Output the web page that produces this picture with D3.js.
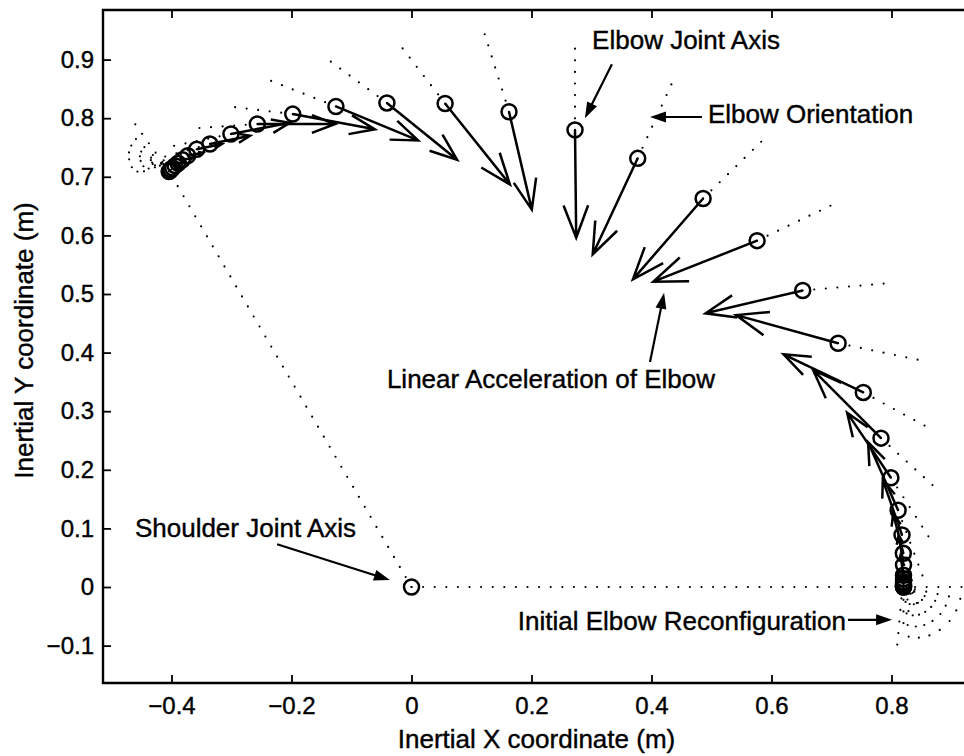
<!DOCTYPE html>
<html>
<head>
<meta charset="utf-8">
<script src="https://cdn.jsdelivr.net/npm/d3@7"></script>
<style>
body { margin: 0; background: #fff; }
svg { font-family: "Liberation Sans", Arial, sans-serif; }
svg text { stroke: #000; stroke-width: 0.4px; }
</style>
</head>
<body>
<svg id="chart" width="964" height="756"></svg>
<script>
// elbow positions (m), in time order: start at lower right, end at upper left
var elbowX = [0.820, 0.820, 0.820, 0.820, 0.820, 0.820, 0.820, 0.820, 0.820,
    0.820, 0.8197, 0.8175, 0.811, 0.799, 0.7825, 0.753, 0.711, 0.652, 0.576, 0.486,
    0.377, 0.2725, 0.1625, 0.056, -0.041, -0.126, -0.198, -0.257, -0.301, -0.336, -0.358,
    -0.373, -0.382, -0.389, -0.394, -0.398, -0.401, -0.403, -0.404];
var elbowY = [0.000, 0.000, 0.001, 0.002, 0.004, 0.006, 0.009, 0.014, 0.020,
    0.0375, 0.0575, 0.0887, 0.131, 0.1865, 0.254, 0.332, 0.416, 0.506, 0.591, 0.663,
    0.7315, 0.780, 0.811, 0.825, 0.826, 0.820, 0.807, 0.790, 0.773, 0.756, 0.747,
    0.736, 0.729, 0.723, 0.719, 0.715, 0.712, 0.710, 0.709];

// linear acceleration of elbow, drawn as vectors (plot units)
var accX = [0, 0, 0, 0, 0, 0, 0, -0.002, -0.005,
    -0.008, -0.017, -0.032, -0.050, -0.073, -0.113, -0.133, -0.170, -0.162, -0.173, -0.117,
    -0.075, 0.002, 0.038, 0.108, 0.117, 0.137, 0.137, 0.130, 0.098, 0.067, 0.042,
    0.025, 0.017, 0.010, 0.005, 0, 0, 0, 0];
var accY = [0, 0, 0, 0, 0, 0, 0.008, 0.017, 0.034,
    0.051, 0.068, 0.094, 0.116, 0.111, 0.116, 0.065, 0.048, -0.039, -0.070, -0.138,
    -0.164, -0.184, -0.167, -0.138, -0.097, -0.058, -0.026, 0.000, 0.019, 0.014, 0.009,
    0.005, 0.003, 0.002, 0, 0, 0, 0, 0];

// elbow orientation (projected joint axis): angle in degrees and length in m
var orientAngle = [0, -12, -25, -38, -52, -64, -75, -85, -95,
    -90, -85, -78, -70, -58, -43, -29, -12, 5, 26, 45,
    66, 90, 107, 127, 143, 158, 173, 184, 192, 196, 199,
    200, 195, 185, 172, 160, 148, 136, 125];
var orientLen = [0.10, 0.10, 0.10, 0.10, 0.10, 0.10, 0.10, 0.11, 0.12,
    0.11, 0.115, 0.12, 0.12, 0.125, 0.13, 0.135, 0.14, 0.14, 0.14, 0.14,
    0.14, 0.14, 0.14, 0.135, 0.13, 0.12, 0.11, 0.105, 0.10, 0.095, 0.09,
    0.085, 0.085, 0.085, 0.09, 0.09, 0.095, 0.095, 0.10];

var shoulderX = 0, shoulderY = 0;

var xTicks = [-0.4, -0.2, 0, 0.2, 0.4, 0.6, 0.8];
var yTicks = [-0.1, 0, 0.1, 0.2, 0.3, 0.4, 0.5, 0.6, 0.7, 0.8, 0.9];

var xTitle = "Inertial X coordinate (m)";
var yTitle = "Inertial Y coordinate (m)";
var noteText = ["Elbow Joint Axis", "Elbow Orientation", "Linear Acceleration of Elbow",
    "Shoulder Joint Axis", "Initial Elbow Reconfiguration"];

// ---- layout ----
var svg = d3.select("#chart");
var pL = 103, pT = 10, pB = 683, pR = 968;
var x = d3.scaleLinear().domain([-0.5142, 0.9275]).range([pL, pR]);
var y = d3.scaleLinear().domain([-0.1638, 0.9846]).range([pB, pT]);

svg.append("defs").append("clipPath").attr("id", "plotclip")
    .append("rect").attr("x", pL).attr("y", pT)
    .attr("width", pR - pL).attr("height", pB - pT);

var fmt = function(d) { return d === 0 ? "0" : d3.format(".1f")(d); };

// axes, ticks pointing inward like MATLAB
var gx = svg.append("g").attr("transform", "translate(0," + pB + ")")
    .call(d3.axisBottom(x).tickValues(xTicks).tickSizeInner(-8).tickSizeOuter(0)
        .tickPadding(14).tickFormat(fmt));
var gxTop = svg.append("g").attr("transform", "translate(0," + pT + ")")
    .call(d3.axisTop(x).tickValues(xTicks).tickSizeInner(-8).tickSizeOuter(0)
        .tickFormat(""));
var gy = svg.append("g").attr("transform", "translate(" + pL + ",0)")
    .call(d3.axisLeft(y).tickValues(yTicks).tickSizeInner(-8).tickSizeOuter(0)
        .tickPadding(9).tickFormat(fmt));

[gx, gxTop, gy].forEach(function(g) {
    g.select(".domain").remove();
    g.selectAll(".tick line").attr("stroke", "#000").attr("stroke-width", 1.8);
    g.selectAll(".tick text").attr("fill", "#000")
        .style("font-size", "24px").style("font-family", "'Liberation Sans', Arial, sans-serif");
});

// frame
svg.append("path")
    .attr("d", "M" + pR + "," + pT + "H" + pL + "V" + pB + "H" + pR)
    .attr("fill", "none").attr("stroke", "#000").attr("stroke-width", 2.4);

svg.append("text").attr("x", (pL + 970) / 2).attr("y", 748)
    .attr("text-anchor", "middle").style("font-size", "26px").text(xTitle);
svg.append("text")
    .attr("transform", "translate(33," + ((pT + pB) / 2 - 6) + ") rotate(-90)")
    .attr("text-anchor", "middle").style("font-size", "26px").text(yTitle);

// ---- marks ----
var plot = svg.append("g").attr("clip-path", "url(#plotclip)");
var idx = d3.range(elbowX.length);
var last = elbowX.length - 1;

var dotted = function(sel) {
    return sel.attr("fill", "none").attr("stroke", "#000").attr("stroke-width", 2.2)
        .attr("stroke-linecap", "round").attr("stroke-dasharray", "0,11.6");
};

// upper arm at start and end positions
var line = d3.line().x(function(d) { return x(d[0]); }).y(function(d) { return y(d[1]); });
plot.append("path").attr("d", line([[shoulderX, shoulderY], [elbowX[0], elbowY[0]]])).call(dotted);
plot.append("path").attr("d", line([[shoulderX, shoulderY], [elbowX[last], elbowY[last]]])).call(dotted);

// elbow orientation lines
plot.selectAll(".orient").data(idx).join("path").attr("class", "orient")
    .attr("d", function(i) {
        var a = orientAngle[i] * Math.PI / 180;
        return line([[elbowX[i], elbowY[i]],
            [elbowX[i] + orientLen[i] * Math.cos(a), elbowY[i] + orientLen[i] * Math.sin(a)]]);
    })
    .call(dotted);

// elbow circles
plot.selectAll(".elbow").data(idx).join("circle").attr("class", "elbow")
    .attr("cx", function(i) { return x(elbowX[i]); })
    .attr("cy", function(i) { return y(elbowY[i]); })
    .attr("r", 7.5).attr("fill", "none").attr("stroke", "#000").attr("stroke-width", 2.5);

plot.append("circle").attr("cx", x(shoulderX)).attr("cy", y(shoulderY))
    .attr("r", 7.5).attr("fill", "none").attr("stroke", "#000").attr("stroke-width", 2.5);

// acceleration vectors with quiver style heads
function quiverPath(i) {
    var x0 = x(elbowX[i]), y0 = y(elbowY[i]);
    var x1 = x(elbowX[i] + accX[i]), y1 = y(elbowY[i] + accY[i]);
    var ux = x1 - x0, uy = y1 - y0;
    if (Math.abs(ux) + Math.abs(uy) < 0.5) return "";
    var a = 0.3, b = 0.38;
    var w1x = x1 - a * (ux - b * uy), w1y = y1 - a * (uy + b * ux);
    var w2x = x1 - a * (ux + b * uy), w2y = y1 - a * (uy - b * ux);
    return "M" + x0 + "," + y0 + "L" + x1 + "," + y1 +
        "M" + w1x + "," + w1y + "L" + x1 + "," + y1 + "L" + w2x + "," + w2y;
}
plot.selectAll(".acc").data(idx).join("path").attr("class", "acc")
    .attr("d", quiverPath)
    .attr("fill", "none").attr("stroke", "#000").attr("stroke-width", 2.5)
    .attr("stroke-linejoin", "miter");

// ---- annotations ----
var notes = [
    { t: noteText[0], tx: 0.301, ty: 0.918, anchor: "start", from: [0.334, 0.892], to: [0.289, 0.800] },
    { t: noteText[1], tx: 0.494, ty: 0.792, anchor: "start", from: [0.484, 0.802], to: [0.3975, 0.802] },
    { t: noteText[2], tx: -0.041, ty: 0.340, anchor: "start", from: [0.3975, 0.384], to: [0.421, 0.502] },
    { t: noteText[3], tx: -0.461, ty: 0.085, anchor: "start", from: [-0.224, 0.073], to: [-0.036, 0.012] },
    { t: noteText[4], tx: 0.724, ty: -0.073, anchor: "end", from: [0.7275, -0.056], to: [0.801, -0.056] }
];

var gn = svg.append("g");
gn.selectAll("text").data(notes).join("text")
    .attr("x", function(d) { return x(d.tx); })
    .attr("y", function(d) { return y(d.ty); })
    .attr("text-anchor", function(d) { return d.anchor; })
    .style("font-size", "26px").text(function(d) { return d.t; });

gn.selectAll(".nline").data(notes).join("path").attr("class", "nline")
    .attr("d", function(d) {
        var x0 = x(d.from[0]), y0 = y(d.from[1]), x1 = x(d.to[0]), y1 = y(d.to[1]);
        var len = Math.hypot(x1 - x0, y1 - y0), ux = (x1 - x0) / len, uy = (y1 - y0) / len;
        return "M" + x0 + "," + y0 + "L" + (x1 - ux * 10) + "," + (y1 - uy * 10);
    })
    .attr("stroke", "#000").attr("stroke-width", 2.2);

gn.selectAll(".nhead").data(notes).join("path").attr("class", "nhead")
    .attr("d", function(d) {
        var x0 = x(d.from[0]), y0 = y(d.from[1]), x1 = x(d.to[0]), y1 = y(d.to[1]);
        var len = Math.hypot(x1 - x0, y1 - y0), ux = (x1 - x0) / len, uy = (y1 - y0) / len;
        var hl = 16, hw = 5.5;
        return "M" + x1 + "," + y1 +
            "L" + (x1 - ux * hl - uy * hw) + "," + (y1 - uy * hl + ux * hw) +
            "L" + (x1 - ux * hl + uy * hw) + "," + (y1 - uy * hl - ux * hw) + "Z";
    })
    .attr("fill", "#000");
</script>
</body>
</html>
